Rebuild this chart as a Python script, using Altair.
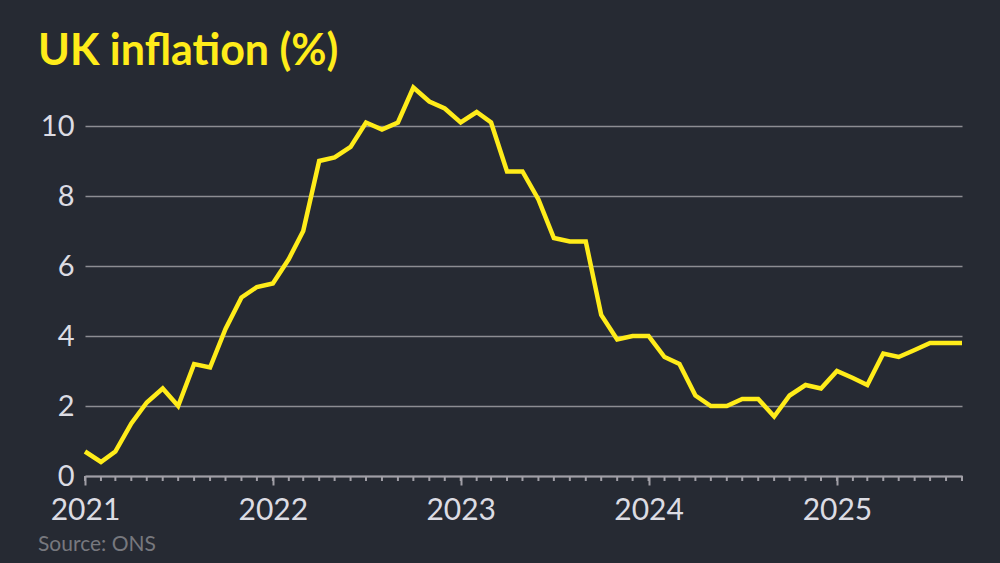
import altair as alt
import pandas as pd

# UK CPI inflation, monthly, Jan 2021 - Sep 2025 (%)
cpi_2021 = [0.7, 0.4, 0.7, 1.5, 2.1, 2.5, 2.0, 3.2, 3.1, 4.2, 5.1, 5.4]
cpi_2022 = [5.5, 6.2, 7.0, 9.0, 9.1, 9.4, 10.1, 9.9, 10.1, 11.1, 10.7, 10.5]
cpi_2023 = [10.1, 10.4, 10.1, 8.7, 8.7, 7.9, 6.8, 6.7, 6.7, 4.6, 3.9, 4.0]
cpi_2024 = [4.0, 3.4, 3.2, 2.3, 2.0, 2.0, 2.2, 2.2, 1.7, 2.3, 2.6, 2.5]
cpi_2025 = [3.0, 2.8, 2.6, 3.5, 3.4, 3.6, 3.8, 3.8, 3.8]

values = cpi_2021 + cpi_2022 + cpi_2023 + cpi_2024 + cpi_2025
months = pd.date_range("2021-01-01", periods=len(values), freq="MS").strftime("%Y-%m-%d").tolist()
year_ticks = [2021, 2022, 2023, 2024, 2025]
y_ticks = [0, 2, 4, 6, 8, 10]

title_text = "UK inflation (%)"
source_text = "Source: ONS"

BG = "#262a33"
YELLOW = "#ffec1a"
GRID = "#8d8d93"
AXIS = "#a09ea6"
LABEL = "#dcdce3"
SOURCE = "#77787e"
FONT = "Lato"

W, H = 877, 392

df = pd.DataFrame({"date": months, "value": values})

x_scale = alt.Scale(domain=[alt.DateTime(year=2021, month=1, date=1),
                            alt.DateTime(year=2025, month=9, date=1)])
y_scale = alt.Scale(domain=[0, 11.2], nice=False)

x_axis = alt.Axis(
    values=[alt.DateTime(year=y, month=1, date=1) for y in year_ticks],
    format="%Y", title=None, grid=False,
    domain=True, domainColor=AXIS, domainWidth=2,
    ticks=True, tickColor=AXIS, tickWidth=2, tickSize=9,
    labelFont=FONT, labelFontSize=30, labelColor=LABEL, labelPadding=10,
    labelAlign="center", labelBaseline="top", labelFlush=False, labelOverlap=False,
)
y_axis = alt.Axis(
    values=y_ticks, title=None, domain=False, ticks=False,
    grid=True, gridColor=GRID, gridWidth=1.6,
    labelFont=FONT, labelFontSize=29, labelColor=LABEL, labelPadding=11,
    labelBaseline="middle",
)

line = alt.Chart(df).mark_line(color=YELLOW, strokeWidth=4.5, strokeJoin="miter").encode(
    x=alt.X("date:T", scale=x_scale, axis=x_axis),
    y=alt.Y("value:Q", scale=y_scale, axis=y_axis),
)

minor = alt.Chart(df).mark_rule(color=AXIS, strokeWidth=2).encode(
    x=alt.X("date:T", scale=x_scale),
    y=alt.value(H),
    y2=alt.value(H + 5),
)

title = alt.Chart(pd.DataFrame({"t": [title_text]})).mark_text(
    font=FONT, fontSize=43, fontWeight="bold", color=YELLOW,
    align="left", baseline="alphabetic",
).encode(text="t:N", x=alt.value(-47), y=alt.value(-19))

source = alt.Chart(pd.DataFrame({"t": [source_text]})).mark_text(
    font=FONT, fontSize=21, color=SOURCE,
    align="left", baseline="alphabetic",
).encode(text="t:N", x=alt.value(-47), y=alt.value(467))

chart = alt.layer(minor, line, title, source).properties(
    width=W, height=H,
    background=BG,
    padding={"left": 77, "top": 76, "right": 30, "bottom": 79},
    autosize=alt.AutoSizeParams(type="none"),
).configure_view(stroke=None)

chart.save("out.html", embed_options={"renderer": "svg", "actions": False})

# paint the page margin in the chart's background colour
with open("out.html", encoding="utf-8") as f:
    html = f.read()
html = html.replace("</head>", "<style>html, body { background-color: %s; }</style>\n</head>" % BG, 1)
with open("out.html", "w", encoding="utf-8") as f:
    f.write(html)
